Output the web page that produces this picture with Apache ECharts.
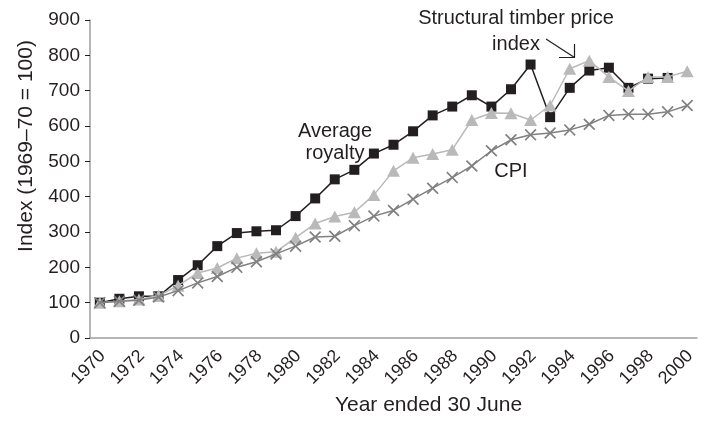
<!DOCTYPE html>
<html>
<head>
<meta charset="utf-8">
<script src="https://cdn.jsdelivr.net/npm/echarts@6/dist/echarts.min.js"></script>
<style>
  html, body { margin: 0; padding: 0; background: #fff; }
  #chart { width: 707px; height: 421px; }
</style>
</head>
<body>
<div id="chart"></div>
<script>
// years on the x axis
const years = ['1970', '1971', '1972', '1973', '1974', '1975', '1976', '1977', '1978', '1979',
  '1980', '1981', '1982', '1983', '1984', '1985', '1986', '1987', '1988', '1989',
  '1990', '1991', '1992', '1993', '1994', '1995', '1996', '1997', '1998', '1999', '2000'];

// index values (1969-70 = 100)
const averageRoyalty = [100, 111, 118, 118, 164, 206, 260, 297, 302, 305,
  345, 395, 449, 476, 522, 547, 585, 630, 655, 687,
  655, 704, 774, 625, 708, 757, 765, 708, 734, 736, null];
const timberPrice = [100, 104, 109, 120, 148, 184, 198, 226, 240, 244,
  284, 324, 344, 356, 405, 473, 510, 521, 533, 617,
  637, 636, 617, 658, 762, 785, 739, 699, 739, 739, 755];
const cpi = [100, 104, 107, 116, 134, 156, 174, 200, 216, 238,
  260, 286, 288, 318, 345, 361, 393, 424, 454, 487,
  530, 561, 575, 580, 589, 605, 630, 633, 633, 640, 658];

const font = '"Liberation Sans", Arial, Helvetica, sans-serif';
const ink = '#231f20';
const axisGrey = '#9a9ea3';
const crossPath = 'path://M0,1 L1,0 L5,4 L9,0 L10,1 L6,5 L10,9 L9,10 L5,6 L1,10 L0,9 L4,5 Z';

const chart = echarts.init(document.getElementById('chart'));

const option = {
  backgroundColor: '#fff',
  animation: false,
  grid: { left: 90, right: 10, top: 20, bottom: 79 },
  xAxis: {
    type: 'category',
    data: years,
    boundaryGap: true,
    name: 'Year ended 30 June',
    nameLocation: 'middle',
    nameGap: 57,
    nameTextStyle: { fontFamily: font, fontSize: 21, color: ink, padding: [0, 0, 0, 70] },
    axisLine: { lineStyle: { color: axisGrey, width: 1.5 } },
    axisTick: { interval: 0, length: 5, lineStyle: { color: ink } },
    axisLabel: {
      interval: 1, rotate: 45, margin: 18, padding: [0, -4, 0, 0],
      fontFamily: font, fontSize: 18, color: ink
    }
  },
  yAxis: {
    type: 'value',
    min: 0, max: 900, interval: 100,
    name: 'Index (1969\u201370 = 100)',
    nameLocation: 'middle',
    nameGap: 53,
    nameTextStyle: { fontFamily: font, fontSize: 21, color: ink, padding: [0, 0, 0, 66] },
    axisLine: { show: true, lineStyle: { color: axisGrey, width: 1.5 } },
    axisTick: { show: true, length: 5, lineStyle: { color: ink } },
    splitLine: { show: false },
    axisLabel: { margin: 10, fontFamily: font, fontSize: 19, color: ink }
  },
  series: [
    {
      name: 'Average royalty',
      type: 'line',
      data: averageRoyalty,
      symbol: 'rect',
      symbolSize: 10,
      lineStyle: { color: ink, width: 1.5 },
      itemStyle: { color: ink },
      z: 2
    },
    {
      name: 'Structural timber price index',
      type: 'line',
      data: timberPrice,
      symbol: 'triangle',
      symbolSize: [13, 12],
      lineStyle: { color: '#b9b9b9', width: 1.5 },
      itemStyle: { color: '#b9b9b9' },
      z: 3
    },
    {
      name: 'CPI',
      type: 'line',
      data: cpi,
      symbol: crossPath,
      symbolSize: 12,
      lineStyle: { color: '#808080', width: 1.5 },
      itemStyle: { color: '#808080' },
      z: 4
    }
  ],
  graphic: [
    {
      type: 'text', x: 335, y: 120,
      style: {
        text: 'Average\nroyalty', fill: ink, font: '20px ' + font,
        textAlign: 'center', textVerticalAlign: 'top', lineHeight: 22
      }
    },
    {
      type: 'text', x: 516, y: 5,
      style: {
        text: 'Structural timber price\nindex', fill: ink, font: '20px ' + font,
        textAlign: 'center', textVerticalAlign: 'top', lineHeight: 26
      }
    },
    {
      type: 'text', x: 511, y: 160,
      style: {
        text: 'CPI', fill: ink, font: '20px ' + font,
        textAlign: 'center', textVerticalAlign: 'top', lineHeight: 22
      }
    },
    {
      type: 'polyline',
      shape: { points: [[546, 39], [574.5, 57.5]] },
      style: { stroke: ink, lineWidth: 1.2, fill: null }
    },
    {
      type: 'polyline',
      shape: { points: [[559, 57.5], [574.5, 57.5], [574.5, 44]] },
      style: { stroke: ink, lineWidth: 1.2, fill: null }
    }
  ]
};

chart.setOption(option);
</script>
</body>
</html>
